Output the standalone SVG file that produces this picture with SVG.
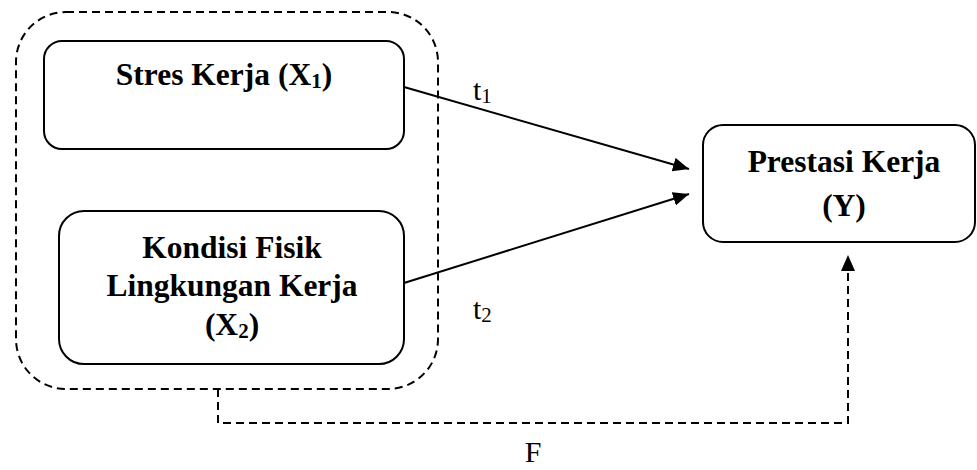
<svg xmlns="http://www.w3.org/2000/svg" width="977" height="470" viewBox="0 0 977 470">
<style>
  .box { fill: #ffffff; stroke: #000000; stroke-width: 2; }
  .dash { fill: none; stroke: #000000; stroke-width: 2; stroke-dasharray: 8 5; }
  .conn { fill: none; stroke: #000000; stroke-width: 2; }
  .lbl { font-family: "Liberation Serif", "Times New Roman", serif; font-weight: bold; font-size: 31.5px; fill: #000000; text-anchor: middle; }
  .elbl { font-family: "Liberation Serif", "Times New Roman", serif; font-size: 30px; fill: #000000; }
  .sub { font-size: 21px; }
</style>
<defs>
  <marker id="arrow" markerUnits="userSpaceOnUse" markerWidth="17" markerHeight="15" refX="16" refY="7" orient="auto">
    <path d="M0,0 L16,7 L0,14 Z" fill="#000000"/>
  </marker>
</defs>
<rect width="977" height="470" fill="#ffffff"/>
<g id="group-x">
  <rect class="dash" x="16" y="12" width="422" height="377" rx="50" ry="50"/>
</g>
<g id="node-x1">
  <rect class="box" x="44" y="41" width="360" height="108" rx="18" ry="18"/>
  <text class="lbl" x="224" y="85">Stres Kerja (X<tspan class="sub" dy="3">1</tspan><tspan dy="-3">)</tspan></text>
</g>
<g id="node-x2">
  <rect class="box" x="59" y="211" width="345" height="153" rx="25" ry="25"/>
  <text class="lbl" x="232" y="258">Kondisi Fisik</text>
  <text class="lbl" x="232" y="296">Lingkungan Kerja</text>
  <text class="lbl" x="232" y="335">(X<tspan class="sub" dy="3">2</tspan><tspan dy="-3">)</tspan></text>
</g>
<g id="node-y">
  <rect class="box" x="703" y="125" width="272" height="117" rx="20" ry="20"/>
  <text class="lbl" x="844" y="172">Prestasi Kerja</text>
  <text class="lbl" x="844" y="216">(Y)</text>
</g>
<g id="connectors">
  <line class="conn" x1="404" y1="87" x2="689" y2="169" marker-end="url(#arrow)"/>
  <line class="conn" x1="404" y1="283" x2="689" y2="194" marker-end="url(#arrow)"/>
  <path class="dash" d="M218,389 L218,423 L848,423 L848,255" marker-end="url(#arrow)"/>
  <text class="elbl" x="473" y="100">t<tspan class="sub" dy="3">1</tspan></text>
  <text class="elbl" x="473" y="319">t<tspan class="sub" dy="3">2</tspan></text>
  <text class="elbl" x="533" y="462" text-anchor="middle">F</text>
</g>
</svg>
